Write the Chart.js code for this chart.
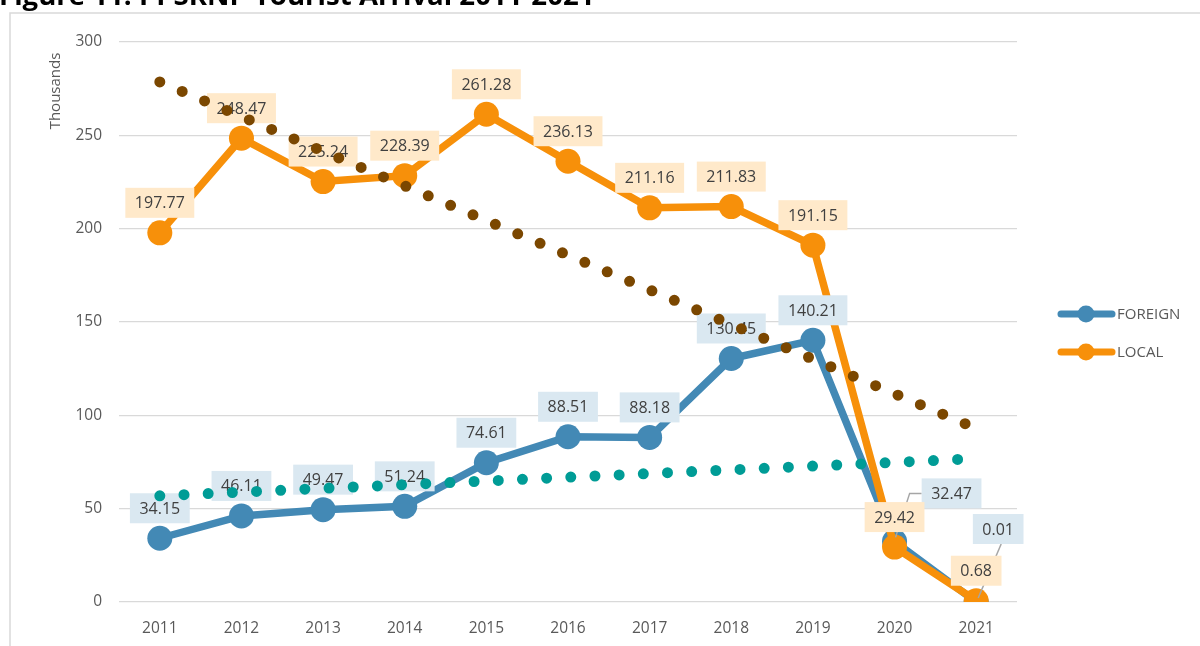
<!DOCTYPE html>
<html>
<head>
<meta charset="utf-8">
<script src="https://cdn.jsdelivr.net/npm/chart.js@4"></script>
<style>
	html, body { margin: 0; padding: 0; background: #fff; }
	#wrap { position: relative; width: 1200px; height: 646px; overflow: hidden; }
</style>
</head>
<body>
<div id="wrap"><canvas id="arrivals" width="1200" height="646"></canvas></div>
<script>
const years = ["2011", "2012", "2013", "2014", "2015", "2016", "2017", "2018", "2019", "2020", "2021"];
const foreign = [34.15, 46.11, 49.47, 51.24, 74.61, 88.51, 88.18, 130.45, 140.21, 32.47, 0.01];
const local = [197.77, 248.47, 225.24, 228.39, 261.28, 236.13, 211.16, 211.83, 191.15, 29.42, 0.68];
// linear trendlines, only the two ends
const foreignTrend = [56.9, null, null, null, null, null, null, null, null, null, 76.8];
const localTrend = [278.6, null, null, null, null, null, null, null, null, null, 93.0];
const yTicks = [0, 50, 100, 150, 200, 250, 300];

const FONT = "'Open Sans', 'DejaVu Sans', sans-serif";
const blue = "#4389B5";
const orange = "#F7900A";

// labels boxes drawn right after the LOCAL line, so trend dots end up on top
const boxLabels = {
	id: "boxLabels",
	afterDatasetDraw(chart, args) {
		if (args.index !== 1) return;
		const ctx = chart.ctx;
		ctx.save();
		ctx.font = `16px ${FONT}`;
		ctx.textAlign = "center";
		ctx.textBaseline = "middle";
		[0, 1].forEach(di => {
			const ds = chart.data.datasets[di];
			const meta = chart.getDatasetMeta(di);
			meta.data.forEach((pt, i) => {
				const txt = ds.data[i].toFixed(2);
				const w = ctx.measureText(txt).width + 19;
				const h = 30;
				const special = (ds.labelShift || {})[i];
				const cx = pt.x + (special ? special.dx : 0);
				const cy = pt.y + (special ? special.dy : -30);
				if (special) {
					ctx.strokeStyle = "#A6A6A6";
					ctx.lineWidth = 1.5;
					ctx.beginPath();
					if (special.leader === "left") {
						ctx.moveTo(cx - w / 2, cy);
						ctx.lineTo(cx - w / 2 - 12, cy);
						ctx.lineTo(pt.x + 1, pt.y - 4);
					} else {
						ctx.moveTo(cx + 3, cy + h / 2);
						ctx.lineTo(pt.x + 2, pt.y - 4);
					}
					ctx.stroke();
				}
				ctx.fillStyle = ds.labelBg;
				ctx.fillRect(cx - w / 2, cy - h / 2, w, h);
				ctx.fillStyle = "#404040";
				ctx.fillText(txt, cx, cy + 1);
			});
		});
		ctx.restore();
	}
};

const frameAndTitle = {
	id: "frameAndTitle",
	beforeDraw(chart) {
		const ctx = chart.ctx;
		ctx.save();
		ctx.fillStyle = "#fff";
		ctx.fillRect(0, 0, chart.width, chart.height);
		ctx.strokeStyle = "#D9D9D9";
		ctx.lineWidth = 1.5;
		ctx.beginPath();
		ctx.moveTo(10, chart.height);
		ctx.lineTo(10, 13);
		ctx.lineTo(chart.width, 13);
		ctx.stroke();
		ctx.fillStyle = "#000";
		ctx.font = `bold 27.6px ${FONT}`;
		ctx.textAlign = "left";
		ctx.textBaseline = "alphabetic";
		ctx.fillText("Figure 11: PPSRNP Tourist Arrival 2011-2021", -1, 5);
		ctx.restore();
	},
	afterDraw(chart) {
		const ctx = chart.ctx;
		ctx.save();
		// axis unit label
		ctx.translate(56, 91);
		ctx.rotate(-Math.PI / 2);
		ctx.font = `15px ${FONT}`;
		ctx.fillStyle = "#595959";
		ctx.textAlign = "center";
		ctx.textBaseline = "middle";
		ctx.fillText("Thousands", 0, 0);
		ctx.restore();

		// side legend, main series only
		ctx.save();
		[0, 1].forEach((di, k) => {
			const ds = chart.data.datasets[di];
			const y = 314 + k * 38;
			ctx.strokeStyle = ds.borderColor;
			ctx.lineWidth = 7;
			ctx.lineCap = "round";
			ctx.beginPath();
			ctx.moveTo(1061, y);
			ctx.lineTo(1112, y);
			ctx.stroke();
			ctx.fillStyle = ds.borderColor;
			ctx.beginPath();
			ctx.arc(1086, y, 8.5, 0, Math.PI * 2);
			ctx.fill();
			ctx.font = `15px ${FONT}`;
			ctx.fillStyle = "#595959";
			ctx.textAlign = "left";
			ctx.textBaseline = "middle";
			ctx.fillText(ds.label, 1117, y + 1);
		});
		ctx.restore();
	}
};

new Chart(document.querySelector("#arrivals"), {
	type: "line",
	data: {
		labels: years,
		datasets: [{
			label: "FOREIGN",
			data: foreign,
			borderColor: blue,
			backgroundColor: blue,
			borderWidth: 7.5,
			pointRadius: 12.5,
			pointHoverRadius: 12.5,
			pointBorderWidth: 0,
			labelBg: "#DAE8F1",
			labelShift: {9: {dx: 57, dy: -48, leader: "left"}, 10: {dx: 22, dy: -73, leader: "bottom"}},
			order: 4
		}, {
			label: "LOCAL",
			data: local,
			borderColor: orange,
			backgroundColor: orange,
			borderWidth: 7.5,
			pointRadius: 12.5,
			pointHoverRadius: 12.5,
			pointBorderWidth: 0,
			labelBg: "#FFE9CA",
			order: 3
		}, {
			label: "Linear (LOCAL)",
			data: localTrend,
			borderColor: "#7B4700",
			borderWidth: 11,
			borderDash: [0, 24.3],
			borderCapStyle: "round",
			pointRadius: 0,
			spanGaps: true,
			order: 2
		}, {
			label: "Linear (FOREIGN)",
			data: foreignTrend,
			borderColor: "#009C96",
			borderWidth: 11,
			borderDash: [0, 24.2],
			borderCapStyle: "round",
			pointRadius: 0,
			spanGaps: true,
			order: 1
		}]
	},
	options: {
		responsive: false,
		animation: false,
		devicePixelRatio: 1,
		layout: {padding: {top: 42, right: 183, left: 0, bottom: 0}},
		plugins: {
			legend: {display: false},
			tooltip: {enabled: false}
		},
		scales: {
			x: {
				offset: true,
				grid: {display: false, drawTicks: false},
				border: {display: false},
				ticks: {color: "#595959", font: {size: 15.5, family: FONT}, padding: 17},
				afterFit: s => { s.height = 44; }
			},
			y: {
				min: 0,
				max: 300,
				afterBuildTicks: s => { s.ticks = yTicks.map(v => ({value: v})); },
				grid: {color: "#D9D9D9", lineWidth: 1.3, drawTicks: false},
				border: {display: false},
				ticks: {color: "#595959", font: {size: 15.5, family: FONT}, padding: 17},
				afterFit: s => { s.width = 119; }
			}
		}
	},
	plugins: [frameAndTitle, boxLabels]
});
</script>
</body>
</html>
